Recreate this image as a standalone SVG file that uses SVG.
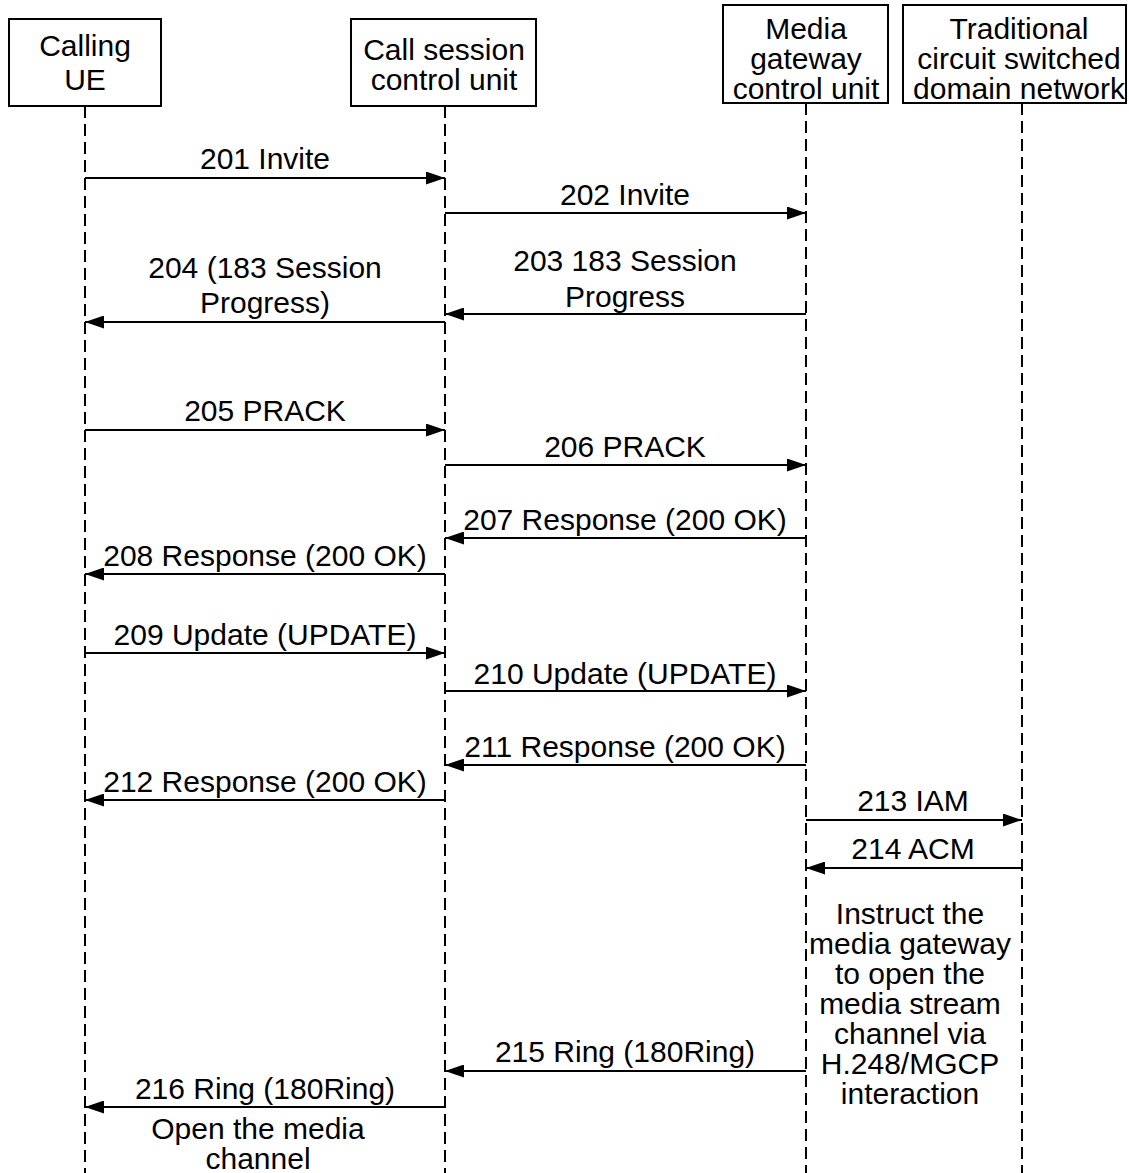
<svg xmlns="http://www.w3.org/2000/svg" width="1129" height="1173" viewBox="0 0 1129 1173">
<style>
text{font-family:"Liberation Sans",Arial,sans-serif;font-size:30px;fill:#000;text-anchor:middle}
.box{fill:#fff;stroke:#000;stroke-width:2}
.life{stroke:#000;stroke-width:2;stroke-dasharray:12,6;fill:none}
.msg{stroke:#000;stroke-width:2;fill:none;marker-end:url(#ah)}
</style>
<defs>
<marker id="ah" viewBox="0 0 19 13" refX="19" refY="6.5" markerWidth="19" markerHeight="13" markerUnits="userSpaceOnUse" orient="auto">
<path d="M0,0 L19,6.5 L0,13 Z" fill="#000"/>
</marker>
</defs>
<rect width="1129" height="1173" fill="#fff"/>
<g id="lifelines">
<line class="life" x1="85" y1="106" x2="85" y2="1173"/>
<line class="life" x1="445" y1="106" x2="445" y2="1173"/>
<line class="life" x1="806" y1="103" x2="806" y2="1173"/>
<line class="life" x1="1022" y1="103" x2="1022" y2="1173"/>
</g>
<g id="node-calling-ue">
<rect class="box" x="9" y="19" width="152" height="87"/>
<text x="85" y="56">Calling</text>
<text x="85" y="90">UE</text>
</g>
<g id="node-cscu">
<rect class="box" x="351" y="19" width="185" height="87"/>
<text x="444" y="60">Call session</text>
<text x="444" y="90">control unit</text>
</g>
<g id="node-mgcu">
<rect class="box" x="723" y="5" width="165" height="98"/>
<text x="806" y="39">Media</text>
<text x="806" y="69">gateway</text>
<text x="806" y="99">control unit</text>
</g>
<g id="node-cs-network">
<rect class="box" x="903" y="5" width="223" height="98"/>
<text x="1019" y="39">Traditional</text>
<text x="1019" y="69">circuit switched</text>
<text x="1019" y="99">domain network</text>
</g>
<g id="connectors">
<line class="msg" x1="85" y1="178" x2="445" y2="178"/>
<text x="265" y="169">201 Invite</text>
<line class="msg" x1="445" y1="213" x2="806" y2="213"/>
<text x="625" y="205">202 Invite</text>
<line class="msg" x1="806" y1="314" x2="445" y2="314"/>
<text x="625" y="271">203 183 Session</text>
<text x="625" y="307">Progress</text>
<line class="msg" x1="445" y1="322" x2="85" y2="322"/>
<text x="265" y="278">204 (183 Session</text>
<text x="265" y="313">Progress)</text>
<line class="msg" x1="85" y1="430" x2="445" y2="430"/>
<text x="265" y="421">205 PRACK</text>
<line class="msg" x1="445" y1="465" x2="806" y2="465"/>
<text x="625" y="457">206 PRACK</text>
<line class="msg" x1="806" y1="538" x2="445" y2="538"/>
<text x="625" y="530">207 Response (200 OK)</text>
<line class="msg" x1="445" y1="574" x2="85" y2="574"/>
<text x="265" y="566">208 Response (200 OK)</text>
<line class="msg" x1="85" y1="653" x2="445" y2="653"/>
<text x="265" y="645">209 Update (UPDATE)</text>
<line class="msg" x1="445" y1="691" x2="806" y2="691"/>
<text x="625" y="684">210 Update (UPDATE)</text>
<line class="msg" x1="806" y1="765" x2="445" y2="765"/>
<text x="625" y="757">211 Response (200 OK)</text>
<line class="msg" x1="445" y1="800" x2="85" y2="800"/>
<text x="265" y="792">212 Response (200 OK)</text>
<line class="msg" x1="806" y1="820" x2="1022" y2="820"/>
<text x="913" y="811">213 IAM</text>
<line class="msg" x1="1022" y1="868" x2="806" y2="868"/>
<text x="913" y="859">214 ACM</text>
<text x="910" y="924">Instruct the</text>
<text x="910" y="954">media gateway</text>
<text x="910" y="984">to open the</text>
<text x="910" y="1014">media stream</text>
<text x="910" y="1044">channel via</text>
<text x="910" y="1074">H.248/MGCP</text>
<text x="910" y="1104">interaction</text>
<line class="msg" x1="806" y1="1071" x2="445" y2="1071"/>
<text x="625" y="1062">215 Ring (180Ring)</text>
<line class="msg" x1="445" y1="1107" x2="85" y2="1107"/>
<text x="265" y="1099">216 Ring (180Ring)</text>
<text x="258" y="1139">Open the media</text>
<text x="258" y="1169">channel</text>
</g>
</svg>
